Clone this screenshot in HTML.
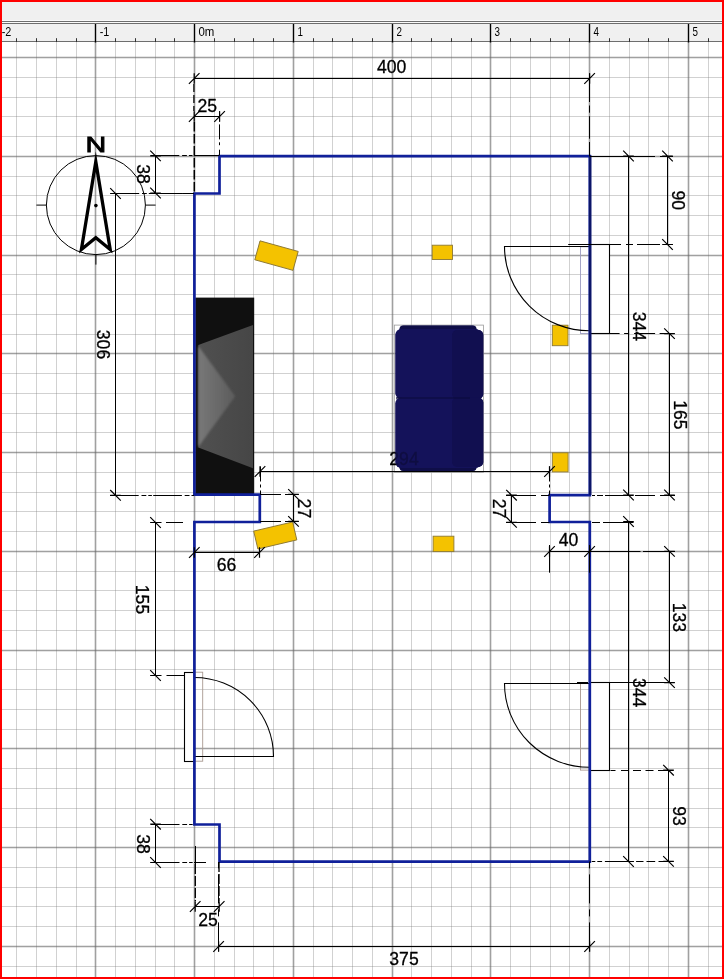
<!DOCTYPE html>
<html lang="en"><head><meta charset="utf-8"><title>Floor plan</title>
<style>html,body{margin:0;padding:0;background:#fff;overflow:hidden}svg{display:block;will-change:transform}text{font-family:"Liberation Sans",sans-serif;fill:#000}</style>
</head><body>
<svg width="724" height="979" viewBox="0 0 724 979">
<defs>
<linearGradient id="tvg" x1="0" y1="0" x2="1" y2="0"><stop offset="0" stop-color="#787878"/><stop offset="0.5" stop-color="#6a6a6a"/><stop offset="1" stop-color="#5c5c5c"/></linearGradient>
<linearGradient id="tvd" x1="0" y1="0" x2="1" y2="0"><stop offset="0" stop-color="#505050"/><stop offset="1" stop-color="#464646"/></linearGradient>
<filter id="bl" x="-10%" y="-10%" width="120%" height="120%"><feGaussianBlur stdDeviation="0.8"/></filter>
<g id="em"><path d="M-5.3 5.3L5.3 -5.3M0 5.3L0 -5.3" stroke="#000" stroke-width="1.2" fill="none"/></g>
</defs>
<rect x="0" y="0" width="724" height="979" fill="#ffffff"/>
<g id="grid" fill="none" stroke-width="1">
<path d="M16.5 42V977M36.5 42V977M56.5 42V977M76.5 42V977M115.5 42V977M135.5 42V977M155.5 42V977M174.5 42V977M214.5 42V977M234.5 42V977M253.5 42V977M273.5 42V977M313.5 42V977M332.5 42V977M352.5 42V977M372.5 42V977M411.5 42V977M431.5 42V977M451.5 42V977M471.5 42V977M510.5 42V977M530.5 42V977M550.5 42V977M569.5 42V977M609.5 42V977M629.5 42V977M648.5 42V977M668.5 42V977M708.5 42V977M727.5 42V977" stroke="#7a7a7a" stroke-opacity="0.35"/>
<path d="M0 77.5H724M0 97.5H724M0 116.5H724M0 136.5H724M0 176.5H724M0 195.5H724M0 215.5H724M0 235.5H724M0 274.5H724M0 294.5H724M0 314.5H724M0 334.5H724M0 373.5H724M0 393.5H724M0 413.5H724M0 432.5H724M0 472.5H724M0 492.5H724M0 511.5H724M0 531.5H724M0 571.5H724M0 590.5H724M0 610.5H724M0 630.5H724M0 669.5H724M0 689.5H724M0 709.5H724M0 729.5H724M0 768.5H724M0 788.5H724M0 808.5H724M0 827.5H724M0 867.5H724M0 887.5H724M0 906.5H724M0 926.5H724M0 966.5H724" stroke="#7a7a7a" stroke-opacity="0.35"/>
<path d="M-2.5 42V977M95.5 42V977M194.5 42V977M293.5 42V977M392.5 42V977M490.5 42V977M589.5 42V977M688.5 42V977" stroke="#666666" stroke-opacity="0.62" stroke-width="1.6"/>
<path d="M0 57.5H724M0 156.5H724M0 255.5H724M0 353.5H724M0 452.5H724M0 551.5H724M0 650.5H724M0 748.5H724M0 847.5H724M0 946.5H724" stroke="#666666" stroke-opacity="0.62" stroke-width="1.6"/>
</g>
<g id="furniture">
<rect x="195.3" y="297.6" width="58.9" height="196.8" fill="#101010"/>
<polygon points="253,325 198.3,345 198.3,447.5 253,468.3" fill="url(#tvd)"/>
<polygon points="198.3,346 235.2,396.3 198.3,447" fill="url(#tvg)" filter="url(#bl)"/>
<rect x="-19.8" y="-9.8" width="39.6" height="19.6" transform="translate(276.5 255.6) rotate(15.5)" fill="#f4c200" stroke="#8c7834" stroke-width="0.9"/>
<rect x="-20" y="-9.2" width="40" height="18.4" transform="translate(275.25 535.5) rotate(-13.2)" fill="#f4c200" stroke="#8c7834" stroke-width="0.9"/>
<rect x="432.2" y="245.2" width="20.3" height="14.3" fill="#f4c200" stroke="#8c7834" stroke-width="0.9"/>
<rect x="433.1" y="536.2" width="20.8" height="15.4" fill="#f4c200" stroke="#8c7834" stroke-width="0.9"/>
<rect x="552.3" y="325.2" width="15.7" height="20.5" fill="#f4c200" stroke="#8c7834" stroke-width="0.9"/>
<rect x="552.3" y="452.8" width="15.8" height="19.1" fill="#f4c200" stroke="#8c7834" stroke-width="0.9"/>
</g>
<g id="doors" fill="none" stroke="#000" stroke-width="1.1">
<rect x="580.5" y="246.8" width="9" height="86.7" stroke="#9c9cc0" stroke-width="0.9"/>
<rect x="590" y="244.5" width="19.5" height="89" fill="#fff"/>
<path d="M589.5 246.5H504.5A85 84.3 0 0 0 589.5 330.8" />
<rect x="580.5" y="683.6" width="9" height="86.5" stroke="#a89890" stroke-width="0.9"/>
<rect x="590" y="682.5" width="19.5" height="88" fill="#fff"/>
<path d="M589.5 683.5H504.5A85 83.8 0 0 0 589.5 767.3" />
<rect x="194.5" y="672.2" width="8.2" height="89" stroke="#a89890" stroke-width="0.9"/>
<rect x="184.5" y="672.5" width="10" height="89" fill="#fff"/>
<path d="M194.5 756.5H273.5A79 79 0 0 0 194.5 677.5" />
</g>
<path id="walls" d="M219.5 156.2H589.8V495.1H549.6V522H589.8V861.6H219.5V824.5H194.4V522H259.8V494.6H194.4V193.5H219.5Z" fill="none" stroke="#10209a" stroke-width="2.7" stroke-linejoin="miter"/>
<path d="M590.2 155.2V495.1" fill="none" stroke="#0c1568" stroke-width="2.4"/>
<rect x="394.3" y="325.1" width="89.3" height="147.4" fill="none" stroke="#9a9a9a" stroke-width="0.8"/>
<g id="sofa">
<rect x="399.5" y="325.5" width="77" height="12" rx="4" fill="#0f0e48"/>
<rect x="399.5" y="459" width="77" height="12" rx="4" fill="#0f0e48"/>
<rect x="395.4" y="329" width="86" height="70" rx="6" ry="6" fill="#14125a"/>
<rect x="395.4" y="397.4" width="86" height="70.6" rx="6" ry="6" fill="#14125a"/>
<rect x="452" y="330" width="31.3" height="69" rx="5" fill="#110f50"/>
<rect x="452" y="397.5" width="31.3" height="69.5" rx="5" fill="#110f50"/>
<path d="M396 398H470" stroke="#0b0a3a" stroke-width="1.2"/>
</g>
<g id="dims">
<path d="M193.9 84V111" stroke="#000" stroke-width="1.25" fill="none" stroke-dasharray="8 3"/>
<path d="M194.3 122V193.5" stroke="#000" stroke-width="1.5" fill="none" stroke-dasharray="9.5 2.5"/>
<path d="M589.5 73.4V102M589.5 105.5V112.7M589.5 116.2V138.7M589.5 142V156" stroke="#000" stroke-width="1" fill="none"/>
<path d="M219.5 111.2V121.5M219.5 124.4V139.4M219.5 142.3V145.2M219.5 149.7V155.5" stroke="#000" stroke-width="1" fill="none"/>
<path d="M260.5 466.5V495" stroke="#000" stroke-width="1" fill="none" stroke-dasharray="15 3 3 3"/>
<path d="M549.5 466.5V495" stroke="#000" stroke-width="1" fill="none" stroke-dasharray="15 3 3 3"/>
<path d="M549.5 545V572.7M589.5 545V572.7" stroke="#000" stroke-width="1" fill="none"/>
<path d="M195.5 846V864" stroke="#000" stroke-width="1" fill="none"/>
<path d="M195.3 864V901M219 862V901" stroke="#000" stroke-width="1.35" fill="none" stroke-dasharray="10 2"/>
<path d="M218.5 951.4V862" stroke="#000" stroke-width="1" fill="none" stroke-dasharray="29 6 7 6"/>
<path d="M589.5 951.4V862" stroke="#000" stroke-width="1" fill="none" stroke-dasharray="29 6 7 6"/>
<path d="M110.5 193.5H194" stroke="#000" stroke-width="1" fill="none" stroke-dasharray="28.7 2.8 4.8 2 3.6 1.3"/>
<path d="M110 495.5H194" stroke="#000" stroke-width="1" fill="none" stroke-dasharray="28.7 2.8 4.8 2 3.6 1.3"/>
<path d="M150.6 155.5H219" stroke="#000" stroke-width="1" fill="none" stroke-dasharray="28.7 2.8 4.8 2 3.6 1.3"/>
<path d="M150.6 193.5H194" stroke="#000" stroke-width="1" fill="none" stroke-dasharray="28.7 2.8 4.8 2 3.6 1.3"/>
<path d="M150.6 522.5H161.5M166 522.5H183" stroke="#000" stroke-width="1" fill="none"/>
<path d="M150.6 675.5H161.5M166.5 675.5H184" stroke="#000" stroke-width="1" fill="none"/>
<path d="M150.8 824.5H194" stroke="#000" stroke-width="1" fill="none" stroke-dasharray="28.7 2.8 4.8 2 3.6 1.3"/>
<path d="M150.8 862.5H206" stroke="#000" stroke-width="1" fill="none" stroke-dasharray="28.7 2.8 4.8 2 3.6 1.3"/>
<path d="M298.6 494.5H285M281 494.5H260M298.6 521.5H285M281 521.5H260" stroke="#000" stroke-width="1" fill="none"/>
<path d="M506 495.5H536M541 495.5H549.5M506 522.5H536M541 522.5H549.5" stroke="#000" stroke-width="1" fill="none"/>
<path d="M589.6 156.5H655M660 156.5H673" stroke="#000" stroke-width="1" fill="none"/>
<path d="M592 495.5H595M597 495.5H603M605 495.5H633.6M635 495.5H655M660 495.5H675" stroke="#000" stroke-width="1" fill="none"/>
<path d="M592 522.5H600M603 522.5H633.6" stroke="#000" stroke-width="1" fill="none"/>
<path d="M633.6 861.5H589.6" stroke="#000" stroke-width="1" fill="none" stroke-dasharray="28.7 2.8 4.8 2 3.6 1.3"/>
<path d="M568.2 244.5H621M626 244.5H633M637 244.5H660M663 244.5H672.9" stroke="#000" stroke-width="1" fill="none"/>
<path d="M674.6 333.5H609" stroke="#000" stroke-width="1" fill="none" stroke-dasharray="15 4.5 21 5 5 4.5 12"/>
<path d="M590 551.5H640.5M643 551.5H675" stroke="#000" stroke-width="1" fill="none"/>
<path d="M674.6 682.5H609M577 682.5H588" stroke="#000" stroke-width="1" fill="none"/>
<path d="M673.5 770.5H609" stroke="#000" stroke-width="1" fill="none" stroke-dasharray="15.5 4.5 8 4.5 8 4.5 7.5 5.5 5"/>
<path d="M673.5 861.5H628" stroke="#000" stroke-width="1" fill="none" stroke-dasharray="15 3.3 8.7 3 7.4 2.6 33"/>
<path d="M194.2 78.5H589.6" stroke="#000" stroke-width="1" fill="none"/>
<use href="#em" transform="translate(194.2 78.5) rotate(0)"/>
<use href="#em" transform="translate(589.6 78.5) rotate(0)"/>
<text x="391.6" y="72.9" font-size="17.6" text-anchor="middle" stroke="#000" stroke-width="0.3">400</text>
<path d="M194.2 116.5H219.6" stroke="#000" stroke-width="1" fill="none"/>
<use href="#em" transform="translate(194.2 116.5) rotate(0)"/>
<use href="#em" transform="translate(219.6 116.5) rotate(0)"/>
<text x="207.2" y="111.7" font-size="17.6" text-anchor="middle" stroke="#000" stroke-width="0.3">25</text>
<path d="M260 471.5H549.5" stroke="#000" stroke-width="1" fill="none"/>
<use href="#em" transform="translate(260 471.5) rotate(0)"/>
<use href="#em" transform="translate(549.5 471.5) rotate(0)"/>
<text x="404" y="465.3" font-size="17.6" text-anchor="middle" stroke="#000" stroke-width="0.3">294</text>
<path d="M194.3 552.5H259.5" stroke="#000" stroke-width="1" fill="none"/>
<use href="#em" transform="translate(194.3 552.5) rotate(0)"/>
<use href="#em" transform="translate(259.5 552.5) rotate(0)"/>
<text x="226.5" y="570.8" font-size="17.6" text-anchor="middle" stroke="#000" stroke-width="0.3">66</text>
<path d="M549.5 551.5H589.6" stroke="#000" stroke-width="1" fill="none"/>
<use href="#em" transform="translate(549.5 551.5) rotate(0)"/>
<use href="#em" transform="translate(589.6 551.5) rotate(0)"/>
<text x="568.6" y="545.6" font-size="17.6" text-anchor="middle" stroke="#000" stroke-width="0.3">40</text>
<path d="M195.2 906.5H219.2" stroke="#000" stroke-width="1" fill="none"/>
<use href="#em" transform="translate(195.2 906.5) rotate(0)"/>
<use href="#em" transform="translate(219.2 906.5) rotate(0)"/>
<text x="208" y="925.7" font-size="17.6" text-anchor="middle" stroke="#000" stroke-width="0.3">25</text>
<path d="M218.6 946.5H589.6" stroke="#000" stroke-width="1" fill="none"/>
<use href="#em" transform="translate(218.6 946.5) rotate(0)"/>
<use href="#em" transform="translate(589.6 946.5) rotate(0)"/>
<text x="404" y="965" font-size="17.6" text-anchor="middle" stroke="#000" stroke-width="0.3">375</text>
<path d="M115.5 193.5V495.3" stroke="#000" stroke-width="1" fill="none"/>
<use href="#em" transform="translate(115.5 193.5) rotate(90)"/>
<use href="#em" transform="translate(115.5 495.3) rotate(90)"/>
<text transform="translate(96.8 344.5) rotate(90)" font-size="17.6" text-anchor="middle" stroke="#000" stroke-width="0.3">306</text>
<path d="M155.5 155.9V193" stroke="#000" stroke-width="1" fill="none"/>
<use href="#em" transform="translate(155.5 155.9) rotate(90)"/>
<use href="#em" transform="translate(155.5 193) rotate(90)"/>
<text transform="translate(137.1 174) rotate(90)" font-size="17.6" text-anchor="middle" stroke="#000" stroke-width="0.3">38</text>
<path d="M155.5 522.5V675.5" stroke="#000" stroke-width="1" fill="none"/>
<use href="#em" transform="translate(155.5 522.5) rotate(90)"/>
<use href="#em" transform="translate(155.5 675.5) rotate(90)"/>
<text transform="translate(135.6 599.5) rotate(90)" font-size="17.6" text-anchor="middle" stroke="#000" stroke-width="0.3">155</text>
<path d="M155.5 824.2V862.5" stroke="#000" stroke-width="1" fill="none"/>
<use href="#em" transform="translate(155.5 824.2) rotate(90)"/>
<use href="#em" transform="translate(155.5 862.5) rotate(90)"/>
<text transform="translate(137 844) rotate(90)" font-size="17.6" text-anchor="middle" stroke="#000" stroke-width="0.3">38</text>
<path d="M293.5 494.4V521.4" stroke="#000" stroke-width="1" fill="none"/>
<use href="#em" transform="translate(293.5 494.4) rotate(90)"/>
<use href="#em" transform="translate(293.5 521.4) rotate(90)"/>
<text transform="translate(298.1 508.4) rotate(90)" font-size="17.6" text-anchor="middle" stroke="#000" stroke-width="0.3">27</text>
<path d="M511.5 495.2V522.3" stroke="#000" stroke-width="1" fill="none"/>
<use href="#em" transform="translate(511.5 495.2) rotate(90)"/>
<use href="#em" transform="translate(511.5 522.3) rotate(90)"/>
<text transform="translate(493 508.5) rotate(90)" font-size="17.6" text-anchor="middle" stroke="#000" stroke-width="0.3">27</text>
<path d="M628.5 156V495" stroke="#000" stroke-width="1" fill="none"/>
<use href="#em" transform="translate(628.5 156) rotate(90)"/>
<use href="#em" transform="translate(628.5 495) rotate(90)"/>
<text transform="translate(632.8 326.3) rotate(90)" font-size="17.6" text-anchor="middle" stroke="#000" stroke-width="0.3">344</text>
<path d="M628.5 521.5V861.5" stroke="#000" stroke-width="1" fill="none"/>
<use href="#em" transform="translate(628.5 521.5) rotate(90)"/>
<use href="#em" transform="translate(628.5 861.5) rotate(90)"/>
<text transform="translate(632.8 692.6) rotate(90)" font-size="17.6" text-anchor="middle" stroke="#000" stroke-width="0.3">344</text>
<path d="M667.5 156V244.5" stroke="#000" stroke-width="1" fill="none"/>
<use href="#em" transform="translate(667.5 156) rotate(90)"/>
<use href="#em" transform="translate(667.5 244.5) rotate(90)"/>
<text transform="translate(672.2 200.2) rotate(90)" font-size="17.6" text-anchor="middle" stroke="#000" stroke-width="0.3">90</text>
<path d="M669.5 333.6V495" stroke="#000" stroke-width="1" fill="none"/>
<use href="#em" transform="translate(669.5 333.6) rotate(90)"/>
<use href="#em" transform="translate(669.5 495) rotate(90)"/>
<text transform="translate(673.7 414.8) rotate(90)" font-size="17.6" text-anchor="middle" stroke="#000" stroke-width="0.3">165</text>
<path d="M669.5 551.4V682.6" stroke="#000" stroke-width="1" fill="none"/>
<use href="#em" transform="translate(669.5 551.4) rotate(90)"/>
<use href="#em" transform="translate(669.5 682.6) rotate(90)"/>
<text transform="translate(673.4 617.3) rotate(90)" font-size="17.6" text-anchor="middle" stroke="#000" stroke-width="0.3">133</text>
<path d="M668.5 770.2V861.4" stroke="#000" stroke-width="1" fill="none"/>
<use href="#em" transform="translate(668.5 770.2) rotate(90)"/>
<use href="#em" transform="translate(668.5 861.4) rotate(90)"/>
<text transform="translate(672.9 816) rotate(90)" font-size="17.6" text-anchor="middle" stroke="#000" stroke-width="0.3">93</text>
</g>
<g id="sofa-veil" opacity="0.72">
<rect x="399.5" y="325.5" width="77" height="12" rx="4" fill="#0f0e48"/>
<rect x="399.5" y="459" width="77" height="12" rx="4" fill="#0f0e48"/>
<rect x="395.4" y="329" width="86" height="70" rx="6" ry="6" fill="#14125a"/>
<rect x="395.4" y="397.4" width="86" height="70.6" rx="6" ry="6" fill="#14125a"/>
<rect x="452" y="330" width="31.3" height="69" rx="5" fill="#110f50"/>
<rect x="452" y="397.5" width="31.3" height="69.5" rx="5" fill="#110f50"/>
<path d="M396 398H470" stroke="#0b0a3a" stroke-width="1.2"/>
</g>
<g id="compass" fill="none" stroke="#000">
<circle cx="95.9" cy="205.1" r="49.5" stroke-width="1"/>
<path d="M36.4 205.1H46.4M145.4 205.1H155.6M95.9 254.6V264.6" stroke-width="1"/>
<path d="M95.8 161.7L81.4 249.5L95.8 237.7L110.2 249.5Z" stroke-width="3.3" stroke-linejoin="miter" stroke-miterlimit="12"/>
<circle cx="95.9" cy="205.6" r="1.8" fill="#000" stroke="none"/>
</g>
<text x="95.9" y="152" font-size="22.6" text-anchor="middle" stroke="#000" stroke-width="0.9" transform="translate(95.9 0) scale(1.27 1) translate(-95.9 0)">N</text>
<g id="ruler">
<rect x="0" y="0" width="724" height="42" fill="#f0f0f0"/>
<path d="M0 20.5H724M0 22.5H724" stroke="#fafafa" stroke-width="1" fill="none"/>
<path d="M0 21.5H724M0 23.5H724M0 41.5H724" stroke="#6e6e6e" stroke-width="1" fill="none"/>
<path d="M16.5 38.2V42M36.5 38.2V42M56.5 38.2V42M76.5 38.2V42M115.5 38.2V42M135.5 38.2V42M155.5 38.2V42M174.5 38.2V42M214.5 38.2V42M234.5 38.2V42M253.5 38.2V42M273.5 38.2V42M313.5 38.2V42M332.5 38.2V42M352.5 38.2V42M372.5 38.2V42M411.5 38.2V42M431.5 38.2V42M451.5 38.2V42M471.5 38.2V42M510.5 38.2V42M530.5 38.2V42M550.5 38.2V42M569.5 38.2V42M609.5 38.2V42M629.5 38.2V42M648.5 38.2V42M668.5 38.2V42M708.5 38.2V42M727.5 38.2V42" stroke="#333" stroke-width="1" fill="none"/>
<path d="M-2.5 24V42.6M95.5 24V42.6M194.5 24V42.6M293.5 24V42.6M392.5 24V42.6M490.5 24V42.6M589.5 24V42.6M688.5 24V42.6" stroke="#000" stroke-width="1.4" fill="none"/>
<text transform="translate(1.7 36) scale(0.88 1)" font-size="12.3">-2</text>
<text transform="translate(99.7 36) scale(0.88 1)" font-size="12.3">-1</text>
<text transform="translate(198.4 36) scale(0.93 1)" font-size="12.3">0m</text>
<text transform="translate(297.4 36) scale(0.8 1)" font-size="12.3">1</text>
<text transform="translate(396.4 36) scale(0.8 1)" font-size="12.3">2</text>
<text transform="translate(494.4 36) scale(0.8 1)" font-size="12.3">3</text>
<text transform="translate(593.4 36) scale(0.8 1)" font-size="12.3">4</text>
<text transform="translate(692.4 36) scale(0.8 1)" font-size="12.3">5</text>
</g>
<path d="M0 0H724V979H0Z M2 2V977H722V2Z" fill="#ff0000" fill-rule="evenodd"/>
</svg></body></html>
